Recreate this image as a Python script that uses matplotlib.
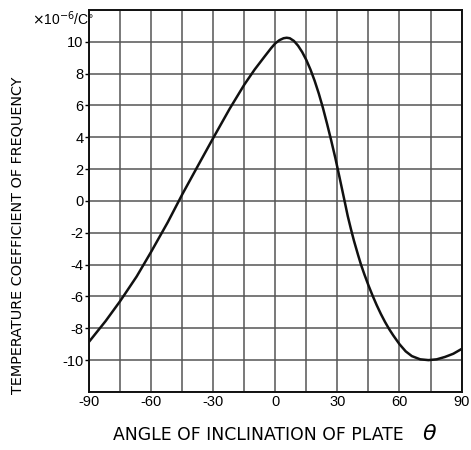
import numpy as np
import matplotlib
matplotlib.use("Agg")
import matplotlib.pyplot as plt

# values (angle in degrees, coefficient in 1e-6/C)
angle = [-90, -82, -75, -67, -60, -52, -45, -37, -30, -22, -15, -10, -5, -2,
         0, 2, 4, 5.5, 7, 9, 11, 13, 15, 17, 19, 21, 23, 25, 27, 29, 31,
         33.3, 35, 36.6, 38, 40, 41.4, 43, 45, 47, 49, 51, 53, 55, 57, 60,
         63, 66, 70, 74, 78, 82, 86, 90]
coef = [-8.85, -7.55, -6.3, -4.75, -3.2, -1.35, 0.4, 2.3, 3.95, 5.8, 7.3,
        8.25, 9.1, 9.6, 9.9, 10.1, 10.22, 10.25, 10.22, 10.05, 9.75, 9.35,
        8.85, 8.25, 7.55, 6.75, 5.85, 4.85, 3.8, 2.7, 1.5, 0.1, -0.95, -1.8,
        -2.5, -3.4, -4.0, -4.6, -5.3, -5.95, -6.55, -7.1, -7.6, -8.05, -8.45,
        -9.0, -9.45, -9.75, -9.95, -10.0, -9.95, -9.8, -9.6, -9.3]

x_ticks = [-90, -60, -30, 0, 30, 60, 90]
x_ticklabels = ["-90", "-60", "-30", "0", "30", "60", "90"]
y_ticks = [-10, -8, -6, -4, -2, 0, 2, 4, 6, 8, 10]

plt.rcParams['font.family'] = ['Liberation Sans', 'DejaVu Sans']

fig = plt.figure(figsize=(4.71, 4.5), dpi=100)
ax = fig.add_axes([0.189, 0.129, 0.791, 0.849])

ax.plot(angle, coef, color='#111111', lw=1.8, solid_capstyle='round')

ax.set_xlim(-90, 90)
ax.set_ylim(-12, 12)
ax.set_xticks(x_ticks)
ax.set_xticklabels(x_ticklabels, fontsize=10.5)
ax.set_xticks(np.arange(-90, 91, 15), minor=True)
ax.set_yticks(y_ticks)
ax.set_yticklabels([str(v) for v in y_ticks], fontsize=10.5)
ax.set_yticks(np.arange(-12, 13, 2), minor=True)
ax.grid(True, which='both', color='#555555', lw=1.1)
ax.tick_params(which='minor', length=0)
ax.tick_params(axis='x', length=0, pad=2)
ax.tick_params(axis='y', length=3, width=1, pad=1)
for s in ax.spines.values():
    s.set_linewidth(1.4)
    s.set_color('#111111')

fig.text(0.038, 0.478, "TEMPERATURE COEFFICIENT OF FREQUENCY", fontsize=10.4,
         rotation=90, ha='center', va='center', family='DejaVu Sans')
fig.text(0.549, 0.022, "ANGLE OF INCLINATION OF PLATE", fontsize=12.4,
         ha='center', va='baseline', family='DejaVu Sans')
fig.text(0.896, 0.022, r"$\theta$", fontsize=16, ha='left', va='baseline',
         family='DejaVu Serif')
fig.text(0.068, 0.958, r"$\times$10$^{-6}$/C$^{\circ}$", fontsize=10,
         ha='left', va='center')

fig.savefig("out.png", dpi=100)
